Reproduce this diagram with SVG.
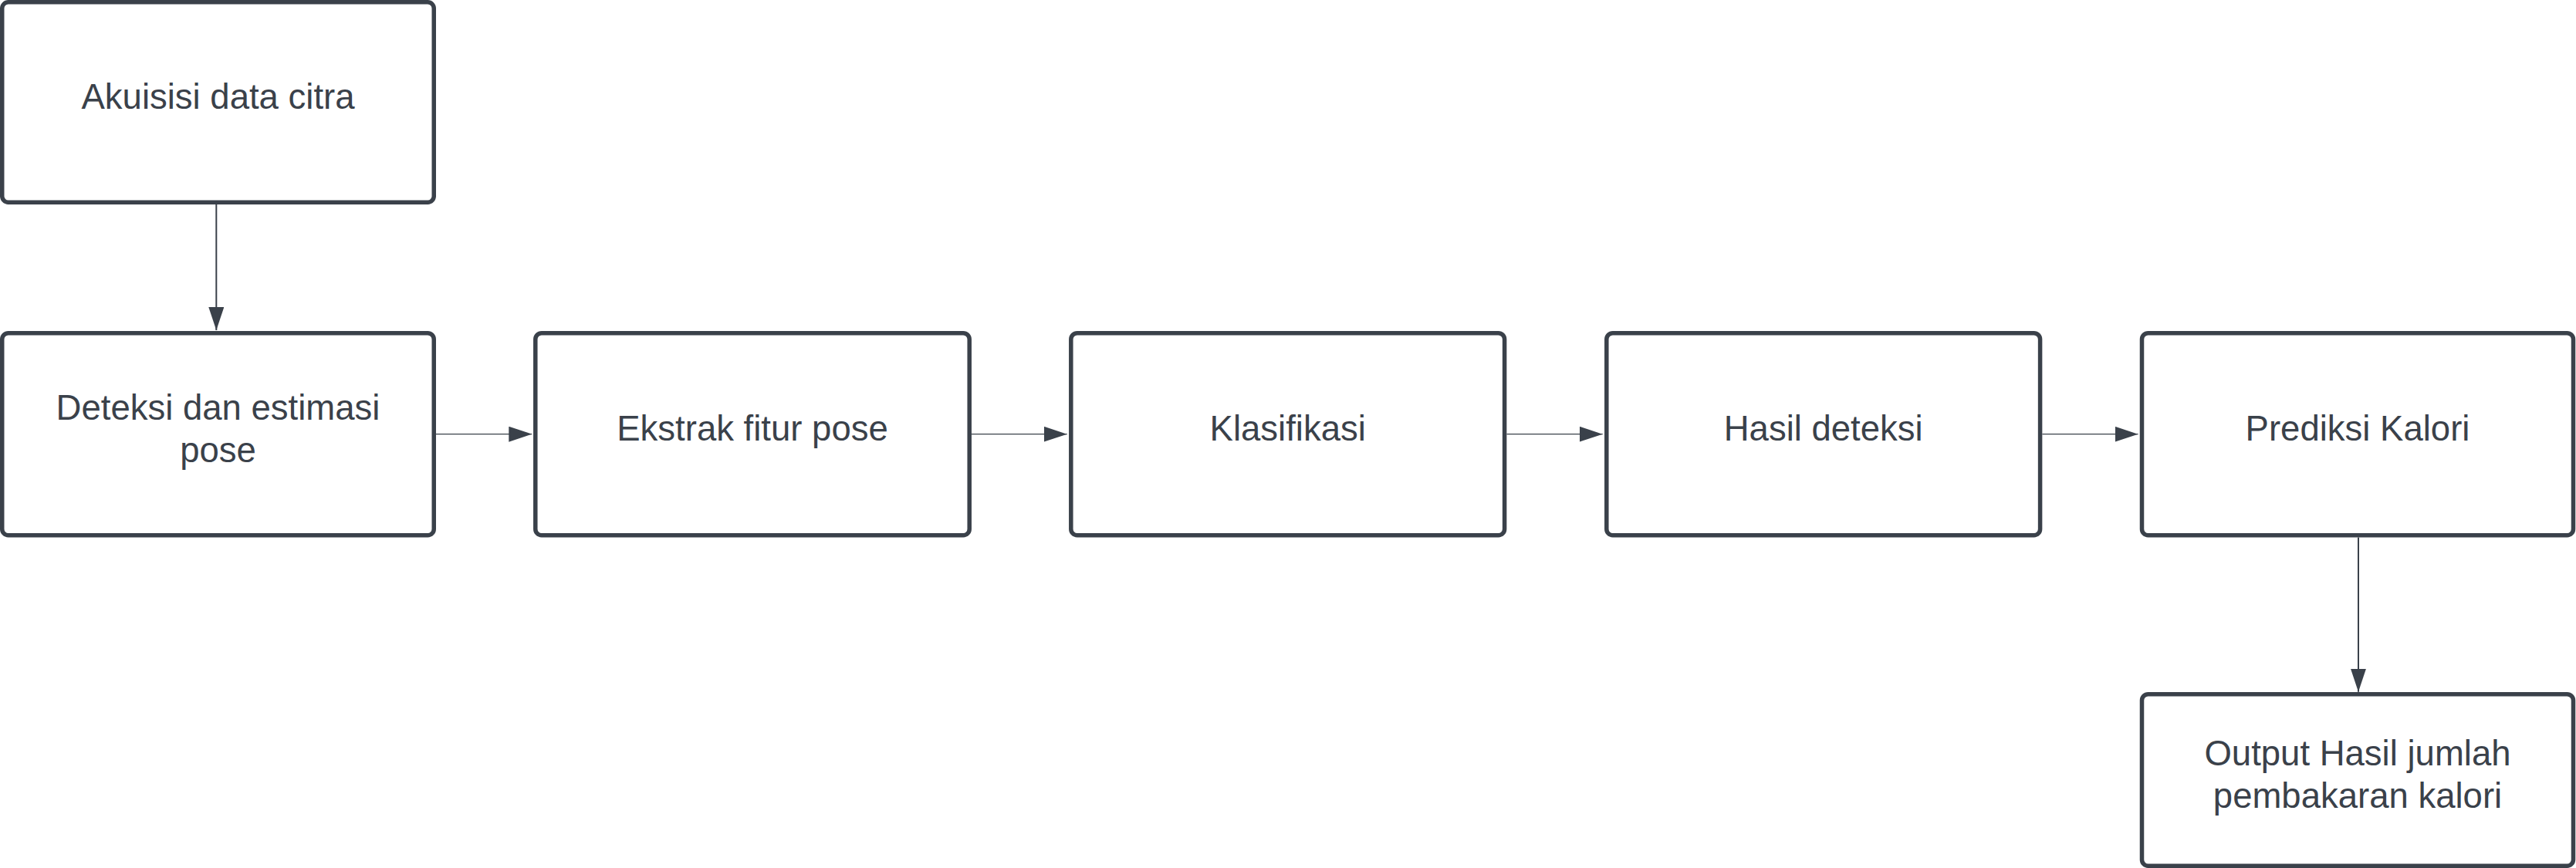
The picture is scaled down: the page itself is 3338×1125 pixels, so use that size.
<svg xmlns="http://www.w3.org/2000/svg" width="3338" height="1125" viewBox="0 0 3338 1125">
<style>
.box{fill:#ffffff;stroke:#3a414a;stroke-width:5.5}
.lbl{font-family:"Liberation Sans",Arial,sans-serif;font-size:45.5px;fill:#3a414a;text-anchor:middle}
.conn{stroke:#3a414a;fill:none}
.h{stroke-width:1.3}
.v{stroke-width:2}
</style>
<defs>
<marker id="arr" viewBox="0 0 30 20" refX="30" refY="10" markerWidth="30" markerHeight="20" markerUnits="userSpaceOnUse" orient="auto">
<path d="M0,0 L30,10 L0,20 Z" fill="#3a414a"/>
</marker>
</defs>
<rect width="3338" height="1125" fill="#ffffff"/>
<g id="connectors">
<line class="conn v" x1="280.3" y1="265" x2="280.3" y2="428" marker-end="url(#arr)"/>
<line class="conn h" x1="565" y1="562.7" x2="689.3" y2="562.7" marker-end="url(#arr)"/>
<line class="conn h" x1="1259" y1="562.7" x2="1382.7" y2="562.7" marker-end="url(#arr)"/>
<line class="conn h" x1="1952.4" y1="562.7" x2="2076.7" y2="562.7" marker-end="url(#arr)"/>
<line class="conn h" x1="2646.4" y1="562.7" x2="2770.5" y2="562.7" marker-end="url(#arr)"/>
<line class="conn v" x1="3056" y1="696.5" x2="3056" y2="896.7" marker-end="url(#arr)"/>
</g>
<g id="n1">
<rect class="box" x="2.75" y="2.75" width="559.5" height="259.5" rx="8"/>
<text class="lbl" x="282.5" y="141">Akuisisi data citra</text>
</g>
<g id="n2">
<rect class="box" x="2.75" y="431.7" width="559.5" height="262" rx="8"/>
<text class="lbl" x="282.5" y="544.3">Deteksi dan estimasi</text>
<text class="lbl" x="282.5" y="598.9">pose</text>
</g>
<g id="n3">
<rect class="box" x="693.8" y="431.7" width="562.4" height="262" rx="8"/>
<text class="lbl" x="975" y="571.2">Ekstrak fitur pose</text>
</g>
<g id="n4">
<rect class="box" x="1387.8" y="431.7" width="561.8" height="262" rx="8"/>
<text class="lbl" x="1668.7" y="571.2">Klasifikasi</text>
</g>
<g id="n5">
<rect class="box" x="2081.8" y="431.7" width="561.8" height="262" rx="8"/>
<text class="lbl" x="2362.7" y="571.2">Hasil deteksi</text>
</g>
<g id="n6">
<rect class="box" x="2775.5" y="431.7" width="559" height="262" rx="8"/>
<text class="lbl" x="3055" y="571.2">Prediksi Kalori</text>
</g>
<g id="n7">
<rect class="box" x="2775.5" y="899.7" width="559" height="222.5" rx="8"/>
<text class="lbl" x="3055" y="992.3">Output Hasil jumlah</text>
<text class="lbl" x="3055" y="1046.9">pembakaran kalori</text>
</g>
</svg>
